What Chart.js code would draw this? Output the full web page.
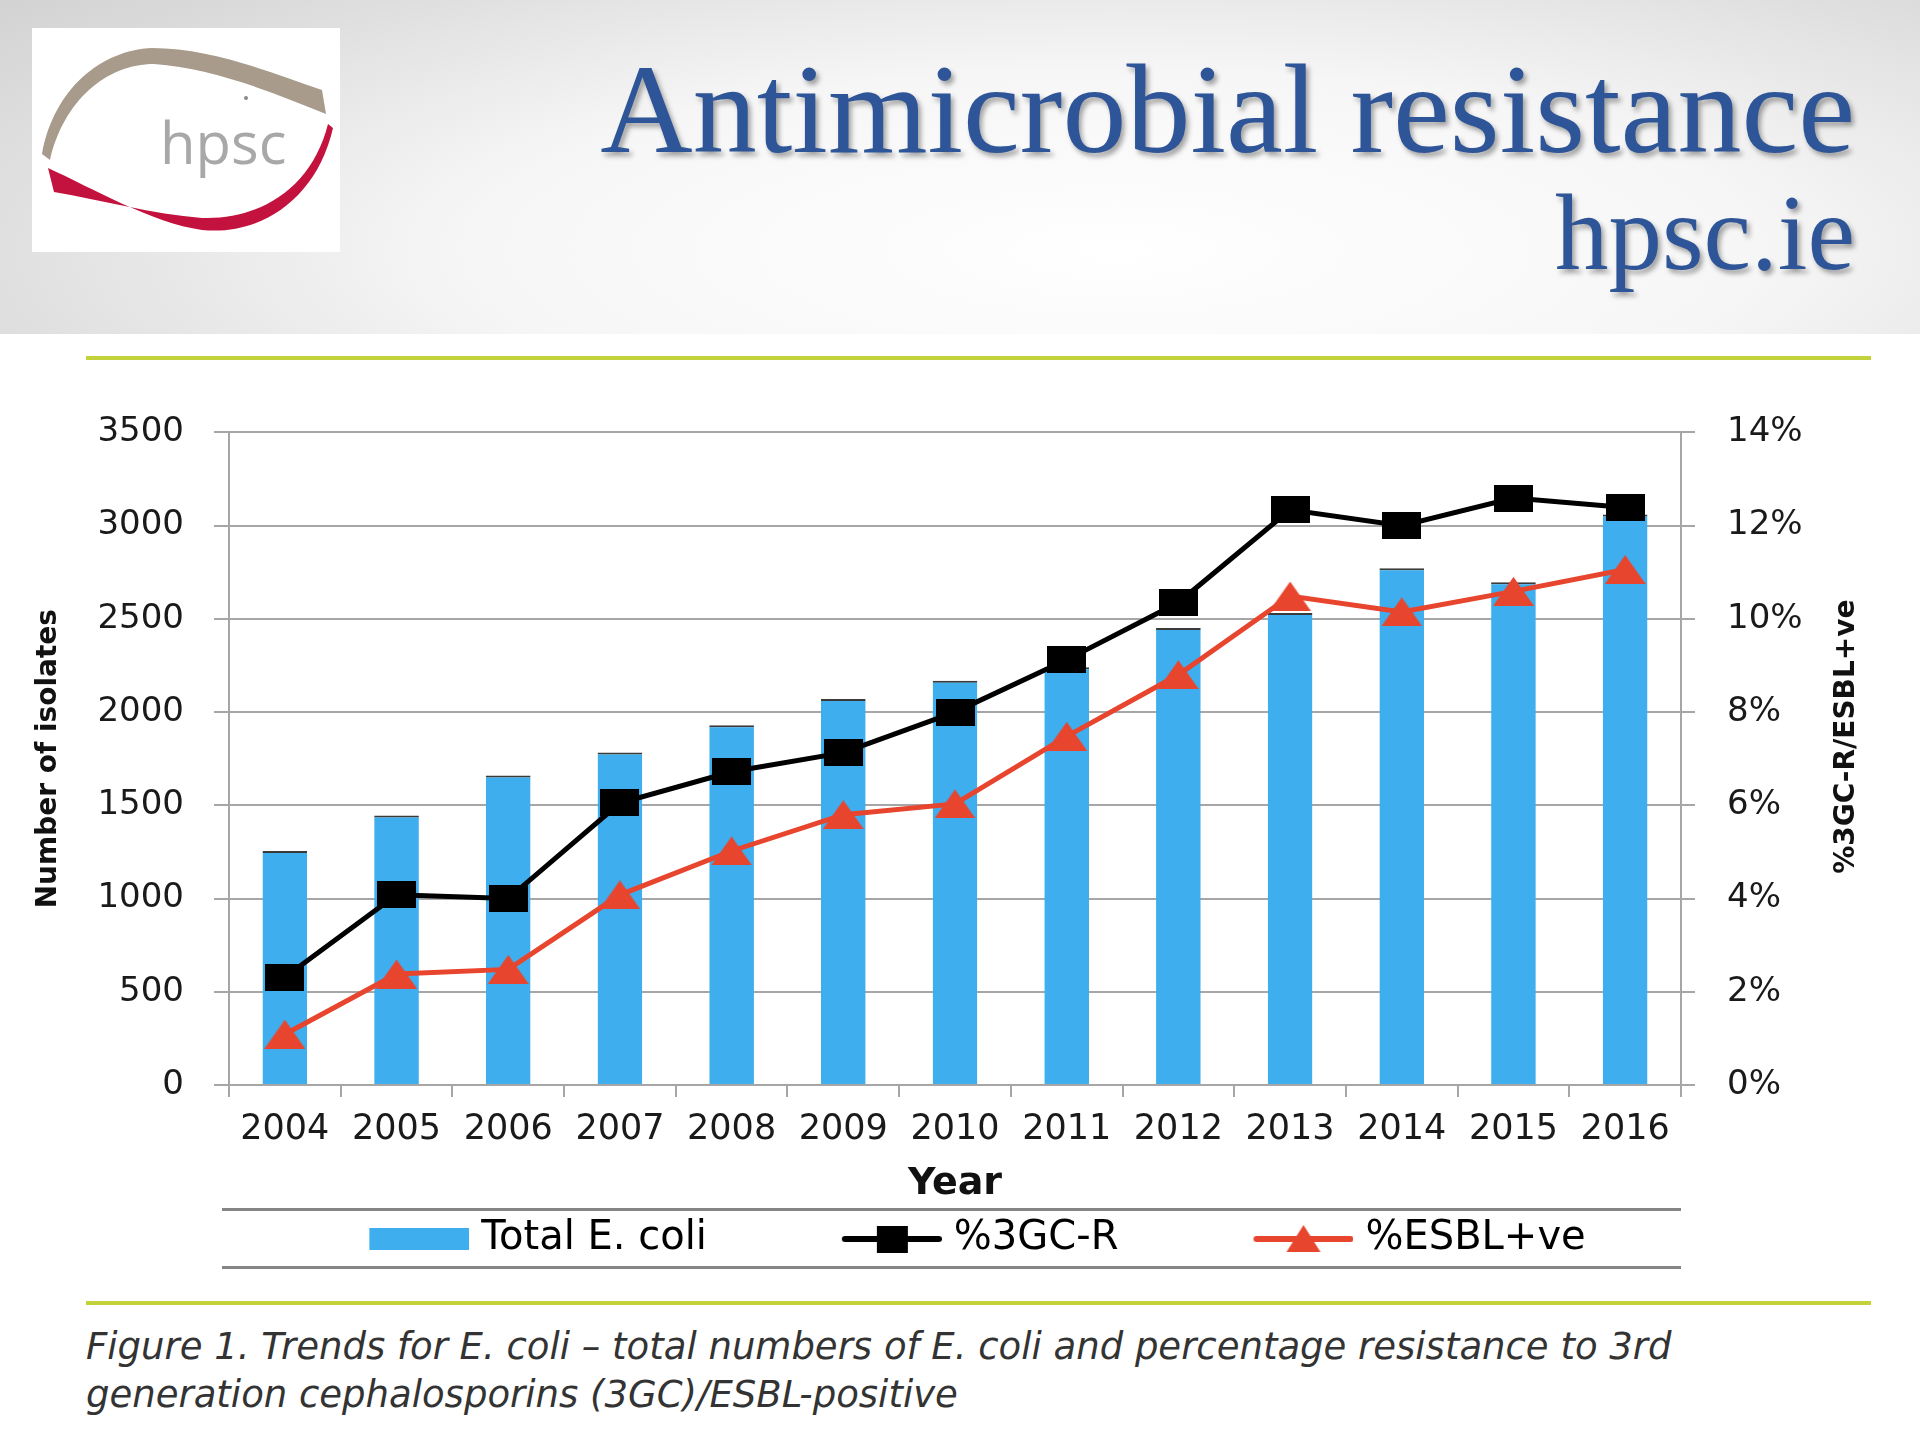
<!DOCTYPE html>
<html>
<head>
<meta charset="utf-8">
<script src="https://cdn.jsdelivr.net/npm/chart.js@4.4.0/dist/chart.umd.min.js"></script>
<style>
  body { margin: 0; width: 1920px; height: 1440px; background: #fff; position: relative; overflow: hidden; font-family: 'DejaVu Sans', sans-serif; }
  #header { position: absolute; left: 0; top: 0; width: 1920px; height: 334px;
    background: radial-gradient(ellipse 75% 120% at 58% 75%, #ffffff 0%, #f6f6f6 45%, #dedede 80%, #d2d2d2 100%); }
  #logo { position: absolute; left: 32px; top: 28px; width: 308px; height: 224px; background: #fff; }
  .title { position: absolute; right: 65px; color: #2E5597; font-family: 'Liberation Serif', serif; white-space: nowrap; line-height: 1;
    text-shadow: 3px 4px 5px rgba(0,0,0,0.35); }
  #t1 { top: 45px; font-size: 128px; }
  #t2 { top: 180px; font-size: 107px; }
  .green { position: absolute; left: 86px; width: 1785px; height: 4px; background: #C3D23A; }
  .legline { position: absolute; left: 222px; width: 1459px; height: 3px; background: #858585; }
  #wrap { position: absolute; left: 0; top: 380px; width: 1920px; height: 889px; }
  #caption { position: absolute; left: 86px; top: 1323px; font-family: 'DejaVu Sans', sans-serif; font-style: italic;
    font-size: 37px; line-height: 48px; color: #333; white-space: nowrap; }
</style>
</head>
<body>
<div id="header">
  <div id="logo">
    <svg width="308" height="224" viewBox="0 0 308 224">
      <path d="M10 126 C 22 60, 70 22, 120 20 C 180 20, 240 45, 290 62 L 294 86 C 240 64, 180 40, 122 36 C 75 36, 32 72, 18 132 Z" fill="#A89B8C"/>
      <path d="M16 140 C 60 160, 120 195, 170 202 C 230 208, 285 170, 301 100 L 296 96 C 280 160, 228 192, 170 190 C 120 186, 70 172, 22 164 Z" fill="#C3123E"/>
      <circle cx="214" cy="70" r="2" fill="#8a8a8a"/>
      <text x="128" y="136" font-family="Open Sans, sans-serif" font-size="58" fill="#A8A8A8">hpsc</text>
    </svg>
  </div>
  <div class="title" id="t1">Antimicrobial resistance</div>
  <div class="title" id="t2">hpsc.ie</div>
</div>
<div class="green" style="top:356px"></div>
<div id="wrap"><canvas id="graph"></canvas></div>
<div class="legline" style="top:1208px"></div>
<div class="legline" style="top:1266px"></div>
<div class="green" style="top:1301px"></div>
<div id="caption">Figure 1. Trends for E. coli – total numbers of E. coli and percentage resistance to 3rd<br>generation cephalosporins (3GC)/ESBL-positive</div>

<script>
const years = ['2004', '2005', '2006', '2007', '2008', '2009', '2010', '2011', '2012', '2013', '2014', '2015', '2016'];
const totalEcoli = [1255, 1446, 1660, 1783, 1930, 2070, 2168, 2240, 2451, 2532, 2771, 2697, 3060];
const pct3GCR = [2.31, 4.08, 4.0, 6.05, 6.72, 7.13, 8.0, 9.12, 10.35, 12.34, 12.0, 12.59, 12.39];
const pctESBL = [1.09, 2.38, 2.48, 4.08, 5.02, 5.80, 6.03, 7.48, 8.80, 10.49, 10.15, 10.59, 11.06];
const seriesNames = ['Total E. coli', '%3GC-R', '%ESBL+ve'];

const BLUE = '#3FAEEE';
const RED = '#E8452E';
const GRID = '#a6a6a6';

function squareMarker(w, h) {
    const c = document.createElement('canvas');
    c.width = w; c.height = h;
    const ctx = c.getContext('2d');
    ctx.fillStyle = '#000';
    ctx.fillRect(0, 0, w, h);
    return c;
}

function triangleMarker(w, h) {
    const c = document.createElement('canvas');
    c.width = w; c.height = h;
    const ctx = c.getContext('2d');
    ctx.fillStyle = RED;
    ctx.beginPath();
    ctx.moveTo(w / 2, 0);
    ctx.lineTo(w, h);
    ctx.lineTo(0, h);
    ctx.closePath();
    ctx.fill();
    return c;
}

// legend swatches: transparent lead-in makes the gap between legend items,
// SHIFT pulls the marker a little closer to its text
const LEAD = 117;
const SHIFT = 8;
function legendSwatch(kind) {
    const c = document.createElement('canvas');
    c.width = LEAD + 100 + 2 * SHIFT; c.height = 34;
    const ctx = c.getContext('2d');
    const x0 = LEAD + 2 * SHIFT;
    if (kind === 'bar') {
        ctx.fillStyle = BLUE;
        ctx.fillRect(x0, 6, 100, 22);
        return c;
    }
    const col = kind === 'square' ? '#000' : RED;
    ctx.strokeStyle = col;
    ctx.lineWidth = 6;
    ctx.lineCap = 'round';
    ctx.beginPath();
    ctx.moveTo(x0 + 3, 17);
    ctx.lineTo(x0 + 97, 17);
    ctx.stroke();
    ctx.fillStyle = col;
    if (kind === 'square') {
        ctx.fillRect(x0 + 35, 4, 31, 27);
    } else {
        ctx.beginPath();
        ctx.moveTo(x0 + 50, 3);
        ctx.lineTo(x0 + 67, 30);
        ctx.lineTo(x0 + 33, 30);
        ctx.closePath();
        ctx.fill();
    }
    return c;
}

const rightTitle = {
    id: 'rightTitle',
    afterDraw(chart) {
        const ctx = chart.ctx;
        const area = chart.chartArea;
        ctx.save();
        ctx.translate(area.right + 166, (area.top + area.bottom) / 2 - 22);
        ctx.rotate(-Math.PI / 2);
        ctx.font = 'bold 28px "DejaVu Sans"';
        ctx.fillStyle = '#111';
        ctx.textAlign = 'center';
        ctx.textBaseline = 'middle';
        ctx.fillText('%3GC-R/ESBL+ve', 0, 0);
        ctx.restore();
    }
};

Chart.defaults.font.family = '"DejaVu Sans", sans-serif';
Chart.defaults.color = '#1a1a1a';

const swatches = [legendSwatch('bar'), legendSwatch('square'), legendSwatch('triangle')];

new Chart(document.getElementById('graph'), {
    type: 'bar',
    data: {
        labels: years,
        datasets: [
            {
                type: 'line',
                label: seriesNames[1],
                data: pct3GCR,
                yAxisID: 'y1',
                borderColor: '#000',
                borderWidth: 5,
                pointStyle: squareMarker(39, 27),
                order: 1
            },
            {
                type: 'line',
                label: seriesNames[2],
                data: pctESBL,
                yAxisID: 'y1',
                borderColor: RED,
                borderWidth: 5,
                pointStyle: triangleMarker(41, 29),
                order: 2
            },
            {
                type: 'bar',
                label: seriesNames[0],
                data: totalEcoli,
                yAxisID: 'y',
                backgroundColor: BLUE,
                borderColor: '#3a3a3a',
                borderWidth: {top: 2, right: 0, bottom: 0, left: 0},
                barPercentage: 0.4,
                categoryPercentage: 1,
                order: 3
            }
        ]
    },
    options: {
        responsive: true,
        maintainAspectRatio: false,
        animation: false,
        layout: {padding: {top: 51, left: 0, right: 90, bottom: 0}},
        plugins: {
            tooltip: {enabled: false},
            legend: {
                position: 'bottom',
                labels: {
                    usePointStyle: true,
                    pointStyleWidth: LEAD + 100,
                    padding: 10,
                    color: '#111',
                    font: {size: 40},
                    generateLabels: () => seriesNames.map((name, i) => ({
                        text: name,
                        pointStyle: swatches[i],
                        fillStyle: 'transparent',
                        strokeStyle: 'transparent',
                        lineWidth: 0,
                        hidden: false,
                        datasetIndex: i === 0 ? 2 : i - 1
                    }))
                }
            }
        },
        scales: {
            x: {
                type: 'category',
                offset: true,
                afterFit: (s) => { s.height = 124; },
                grid: {offset: true, drawOnChartArea: false, tickLength: 12, color: GRID, lineWidth: 2},
                border: {color: GRID, width: 2},
                ticks: {font: {size: 35}, padding: 12, maxRotation: 0, autoSkip: false, color: '#1a1a1a'},
                title: {display: true, text: 'Year', font: {size: 38, weight: 'bold'}, color: '#111', padding: {top: 0, bottom: 2}}
            },
            y: {
                position: 'left',
                min: 0,
                max: 3500,
                afterFit: (s) => { s.width = 229; },
                grid: {color: GRID, lineWidth: 2, tickLength: 15},
                border: {color: GRID, width: 2},
                ticks: {stepSize: 500, font: {size: 34}, padding: 30, color: '#1a1a1a', callback: (v) => String(v)},
                title: {display: true, text: 'Number of isolates', font: {size: 28, weight: 'bold'}, color: '#111', padding: {top: 32, bottom: 0}}
            },
            y1: {
                position: 'right',
                min: 0,
                max: 14,
                afterFit: (s) => { s.width = 149; },
                grid: {drawOnChartArea: false, color: GRID, lineWidth: 2, tickLength: 14},
                border: {color: GRID, width: 2},
                ticks: {stepSize: 2, font: {size: 34}, padding: 32, color: '#1a1a1a', callback: (v) => v + '%'}
            }
        }
    },
    plugins: [rightTitle]
});
</script>
</body>
</html>
